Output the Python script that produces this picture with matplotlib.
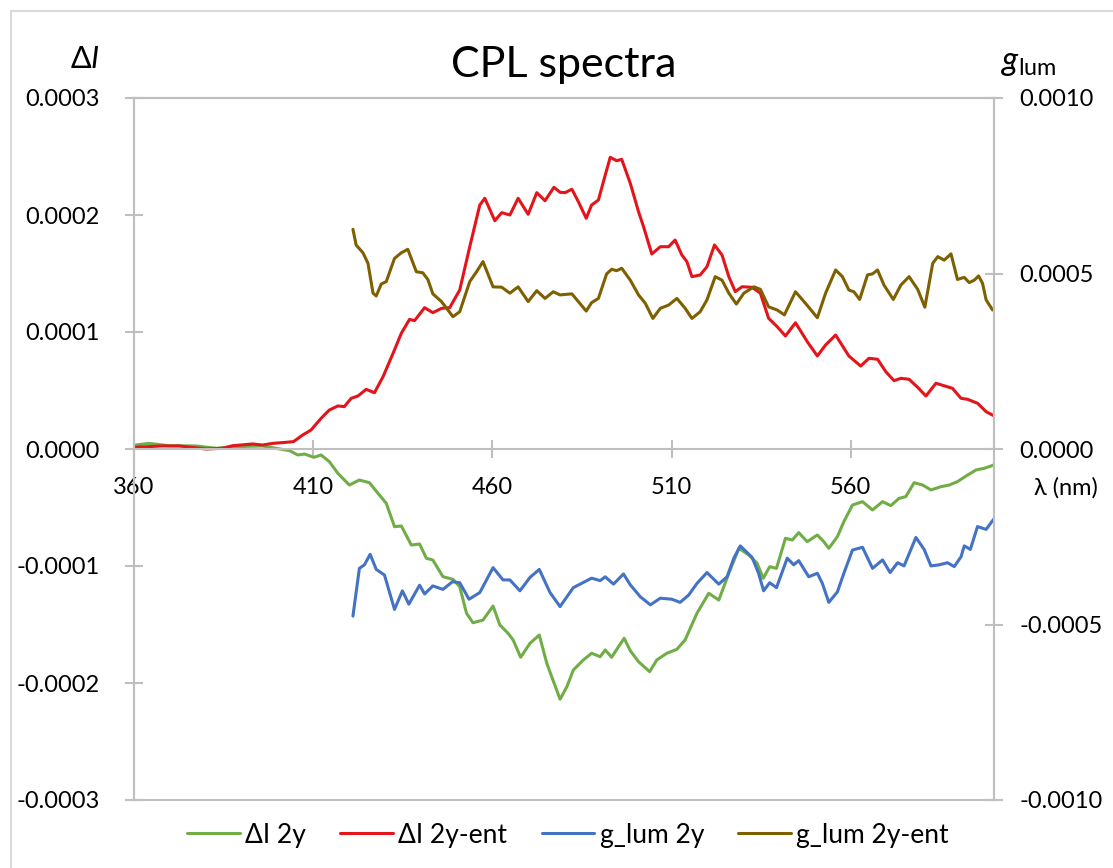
import numpy as np
import matplotlib
matplotlib.use('Agg')
import matplotlib.pyplot as plt
from matplotlib.patches import Rectangle
from matplotlib.ticker import FormatStrFormatter, MultipleLocator

plt.rcParams['font.family'] = ['Lato', 'DejaVu Sans']
plt.rcParams['mathtext.fontset'] = 'custom'
plt.rcParams['mathtext.rm'] = 'Lato'
plt.rcParams['mathtext.it'] = 'Lato:italic'

# wavelength (nm) and Delta I (x1e-4) for 2y
wl_di_2y = [360.5, 364.2, 369.8, 377.3, 382.9, 388.4, 395.9, 399.6, 403.4, 405.7,
            407.6, 410.2, 412.2, 414.5, 416.9, 420.1, 422.9, 425.7, 428.1, 430.4,
            432.7, 434.6, 437.4, 439.7, 441.6, 443.4, 446.2, 449.0, 450.9, 452.8,
            454.6, 457.4, 460.2, 462.1, 464.4, 465.8, 467.9, 470.5, 473.1, 475.2,
            478.9, 480.8, 482.6, 485.4, 487.7, 490.1, 491.5, 493.3, 495.2, 496.8,
            498.5, 500.8, 503.9, 505.9, 508.7, 511.5, 513.8, 517.1, 520.4, 523.2,
            526.0, 528.8, 531.6, 533.9, 535.6, 537.4, 539.3, 541.8, 543.7, 545.5,
            547.9, 550.7, 552.5, 553.9, 556.3, 558.1, 560.5, 563.3, 566.1, 568.9,
            571.2, 573.5, 575.4, 577.7, 580.1, 582.4, 585.2, 587.5, 589.8, 592.2,
            595.0, 597.3, 599.9]
di_2y = [0.034, 0.048, 0.028, 0.026, 0.006, 0.020, 0.026, 0.006, -0.014, -0.051,
         -0.043, -0.071, -0.051, -0.108, -0.208, -0.308, -0.265, -0.288, -0.379, -0.464,
         -0.664, -0.658, -0.821, -0.812, -0.934, -0.949, -1.091, -1.114, -1.177, -1.404,
         -1.485, -1.462, -1.342, -1.504, -1.575, -1.632, -1.780, -1.661, -1.590, -1.832,
         -2.139, -2.032, -1.889, -1.803, -1.746, -1.775, -1.718, -1.780, -1.690, -1.618,
         -1.724, -1.818, -1.903, -1.803, -1.746, -1.712, -1.632, -1.404, -1.233, -1.291,
         -1.062, -0.849, -0.906, -0.977, -1.105, -1.006, -1.020, -0.763, -0.778, -0.715,
         -0.792, -0.735, -0.792, -0.849, -0.749, -0.621, -0.479, -0.450, -0.521, -0.450,
         -0.484, -0.422, -0.407, -0.288, -0.308, -0.350, -0.322, -0.308, -0.279, -0.231,
         -0.179, -0.165, -0.137]

# wavelength (nm) and Delta I (x1e-4) for 2y-ent
wl_di_ent = [360.5, 367.9, 372.6, 380.1, 384.7, 387.5, 393.1, 395.9, 398.7, 402.4,
             404.5, 407.1, 409.4, 412.2, 414.5, 416.9, 418.7, 420.6, 422.5, 424.8,
             427.1, 429.5, 432.3, 434.6, 436.9, 438.3, 441.1, 443.4, 445.8, 448.1,
             450.9, 453.7, 456.5, 457.9, 460.7, 462.6, 464.9, 467.2, 470.0, 472.4,
             474.7, 477.2, 478.9, 480.3, 482.2, 484.0, 486.2, 487.7, 489.6, 491.0,
             492.9, 494.7, 496.1, 498.5, 500.8, 502.2, 504.5, 506.9, 509.2, 511.0,
             512.9, 514.3, 515.7, 518.0, 519.9, 522.0, 524.1, 526.0, 527.8, 529.7,
             532.5, 534.8, 537.1, 539.5, 541.8, 544.6, 547.9, 550.7, 553.0, 555.8,
             559.5, 562.8, 565.1, 567.5, 569.8, 572.1, 574.0, 576.3, 578.7, 581.0,
             583.8, 587.0, 588.4, 590.8, 592.6, 595.4, 597.8, 599.9]
di_ent = [0.015, 0.026, 0.026, 0.000, 0.006, 0.028, 0.043, 0.034, 0.048, 0.057,
          0.063, 0.120, 0.162, 0.262, 0.333, 0.368, 0.362, 0.433, 0.453, 0.510,
          0.481, 0.618, 0.818, 0.989, 1.108, 1.097, 1.208, 1.165, 1.202, 1.208,
          1.359, 1.729, 2.085, 2.143, 1.951, 2.020, 2.000, 2.143, 2.006, 2.191,
          2.122, 2.237, 2.194, 2.191, 2.220, 2.114, 1.972, 2.085, 2.128, 2.285,
          2.493, 2.464, 2.476, 2.271, 2.028, 1.900, 1.667, 1.729, 1.729, 1.786,
          1.658, 1.601, 1.473, 1.487, 1.558, 1.744, 1.658, 1.473, 1.345, 1.387,
          1.382, 1.331, 1.117, 1.045, 0.966, 1.079, 0.917, 0.795, 0.889, 0.974,
          0.795, 0.709, 0.775, 0.767, 0.661, 0.584, 0.604, 0.596, 0.527, 0.453,
          0.562, 0.532, 0.519, 0.433, 0.425, 0.391, 0.319, 0.285]

# wavelength (nm) and g_lum (x1e-4) for 2y
wl_g_2y = [421.1, 422.9, 424.3, 425.9, 427.6, 429.9, 432.7, 434.9, 436.7, 439.7,
           441.1, 443.4, 446.2, 448.9, 450.9, 453.5, 456.5, 460.2, 463.0, 464.9,
           467.7, 470.5, 473.1, 476.1, 478.9, 482.6, 484.5, 487.7, 490.1, 491.5,
           493.8, 496.6, 498.5, 501.3, 504.1, 506.9, 510.1, 512.4, 514.8, 517.1,
           519.9, 523.2, 525.5, 527.4, 529.2, 532.5, 534.3, 535.7, 537.4, 539.3,
           542.3, 544.1, 545.5, 548.3, 550.7, 552.1, 553.9, 556.3, 558.1, 560.5,
           563.3, 566.1, 568.9, 571.0, 573.1, 574.9, 578.2, 580.5, 582.4, 584.7,
           587.0, 588.9, 590.8, 591.7, 593.4, 595.4, 597.8, 599.9]
g_2y = [-4.76, -3.40, -3.30, -3.00, -3.43, -3.59, -4.57, -4.04, -4.42, -3.88,
        -4.13, -3.90, -4.00, -3.78, -3.81, -4.28, -4.09, -3.38, -3.73, -3.73,
        -4.04, -3.66, -3.43, -4.09, -4.49, -3.95, -3.85, -3.68, -3.75, -3.64,
        -3.85, -3.56, -3.87, -4.21, -4.44, -4.25, -4.28, -4.37, -4.16, -3.83,
        -3.52, -3.85, -3.64, -3.11, -2.76, -3.09, -3.54, -4.04, -3.81, -3.95,
        -3.11, -3.30, -3.18, -3.64, -3.54, -3.83, -4.37, -4.07, -3.54, -2.88,
        -2.80, -3.40, -3.16, -3.52, -3.24, -3.33, -2.52, -2.86, -3.33, -3.30,
        -3.24, -3.35, -3.07, -2.76, -2.86, -2.21, -2.29, -2.00]

# wavelength (nm) and g_lum (x1e-4) for 2y-ent
wl_g_ent = [421.1, 422.0, 423.9, 425.3, 426.7, 427.6, 429.0, 430.4, 432.7, 434.6,
            436.4, 438.8, 440.6, 442.0, 443.4, 445.8, 447.6, 449.0, 450.9, 453.7,
            455.6, 457.4, 460.2, 462.6, 464.9, 467.2, 470.0, 472.4, 474.7, 477.0,
            478.9, 482.2, 484.0, 486.2, 487.7, 489.6, 491.9, 493.3, 494.7, 496.1,
            498.5, 500.8, 502.7, 504.8, 506.9, 509.2, 511.5, 513.8, 515.7, 518.0,
            519.9, 522.2, 524.1, 526.0, 528.1, 530.2, 533.0, 534.8, 537.1, 539.5,
            541.5, 544.6, 547.4, 550.7, 553.0, 555.8, 557.7, 559.5, 560.9, 562.5,
            564.7, 566.1, 567.5, 569.3, 571.9, 574.0, 576.3, 578.7, 580.7, 582.9,
            584.3, 586.1, 588.0, 589.8, 591.7, 593.1, 594.5, 595.7, 596.8, 597.8,
            599.6]
g_ent = [6.26, 5.81, 5.59, 5.29, 4.44, 4.36, 4.70, 4.77, 5.43, 5.59,
         5.69, 5.05, 5.02, 4.83, 4.42, 4.20, 3.96, 3.77, 3.91, 4.77,
         5.05, 5.34, 4.62, 4.61, 4.44, 4.62, 4.20, 4.51, 4.29, 4.48,
         4.39, 4.42, 4.20, 3.93, 4.17, 4.29, 4.99, 5.12, 5.08, 5.15,
         4.81, 4.39, 4.15, 3.72, 4.01, 4.10, 4.29, 4.01, 3.72, 3.91,
         4.25, 4.91, 4.81, 4.44, 4.13, 4.44, 4.62, 4.55, 4.05, 3.96,
         3.82, 4.48, 4.15, 3.74, 4.44, 5.10, 4.91, 4.53, 4.48, 4.26,
         4.96, 4.99, 5.10, 4.67, 4.26, 4.67, 4.91, 4.55, 4.04, 5.29,
         5.48, 5.38, 5.56, 4.83, 4.89, 4.74, 4.81, 4.93, 4.72, 4.25,
         3.96]

x_ticks = [360, 410, 460, 510, 560]
green, red, blue, brown = '#70AD47', '#E3151B', '#4472C4', '#7F6000'
grid_grey = '#BFBFBF'

fig = plt.figure(figsize=(11.13, 8.68), dpi=100)
ax = fig.add_axes([134 / 1113, 1 - 800 / 868, 860 / 1113, 702 / 868])
ax2 = ax.twinx()

# chart area border
fig.patches.append(Rectangle((11 / 1113, -0.1), 1.2, 1 - 11 / 868 + 0.1,
                             transform=fig.transFigure, fill=False,
                             edgecolor='#D9D9D9', linewidth=1.5))

lw = 2.2
style = dict(lw=lw, solid_joinstyle='round', solid_capstyle='round')
l1, = ax.plot(wl_di_2y, np.array(di_2y) * 1e-4, color=green, **style)
l2, = ax.plot(wl_di_ent, np.array(di_ent) * 1e-4, color=red, **style)
l3, = ax2.plot(wl_g_2y, np.array(g_2y) * 1e-4, color=blue, **style)
l4, = ax2.plot(wl_g_ent, np.array(g_ent) * 1e-4, color=brown, **style)

ax.set_xlim(360, 600)
ax.set_ylim(-0.0003, 0.0003)
ax2.set_ylim(-0.0010, 0.0010)

ax.set_xticks(x_ticks)
ax.yaxis.set_major_locator(MultipleLocator(0.0001))
ax2.yaxis.set_major_locator(MultipleLocator(0.0005))
ax.yaxis.set_major_formatter(FormatStrFormatter('%.4f'))
ax2.yaxis.set_major_formatter(FormatStrFormatter('%.4f'))

# horizontal axis sits on zero; ax2 keeps the bottom frame line
ax.spines['bottom'].set_position(('data', 0))
for a in (ax, ax2):
    for s in a.spines.values():
        s.set_color(grid_grey)
        s.set_linewidth(1.5)
ax.tick_params(axis='both', direction='inout', length=13, width=1.5,
               color=grid_grey, labelsize=17, labelcolor='black')
ax.tick_params(axis='y', pad=18)
ax.tick_params(axis='x', pad=14)
ax2.tick_params(axis='y', direction='inout', length=13, width=1.5,
                color=grid_grey, labelsize=17, labelcolor='black', pad=12)
ax2.tick_params(axis='x', bottom=False)

ax.set_xlabel('λ (nm)', fontsize=17)
ax.xaxis.set_label_coords(1.084, 0.444)
ax.xaxis.label.set_va('center')

ax.set_title('CPL spectra', fontsize=31, pad=15)
ax.text(-0.04, 1.055, r'Δ$\it{I}$', transform=ax.transAxes, fontsize=22,
        ha='right', va='center')
ax2.text(1.04, 1.05, r'$g_{\mathrm{lum}}$', transform=ax.transAxes,
         fontsize=24, ha='center', va='center')

fig.legend([l1, l2, l3, l4], ['ΔI 2y', 'ΔI 2y-ent', 'g_lum 2y', 'g_lum 2y-ent'],
           loc='center', bbox_to_anchor=(568 / 1113, 1 - 835 / 868), ncol=4,
           frameon=False, fontsize=19, handlelength=2.0, handletextpad=0.2,
           columnspacing=1.3)

fig.savefig('out.png', dpi=100)
